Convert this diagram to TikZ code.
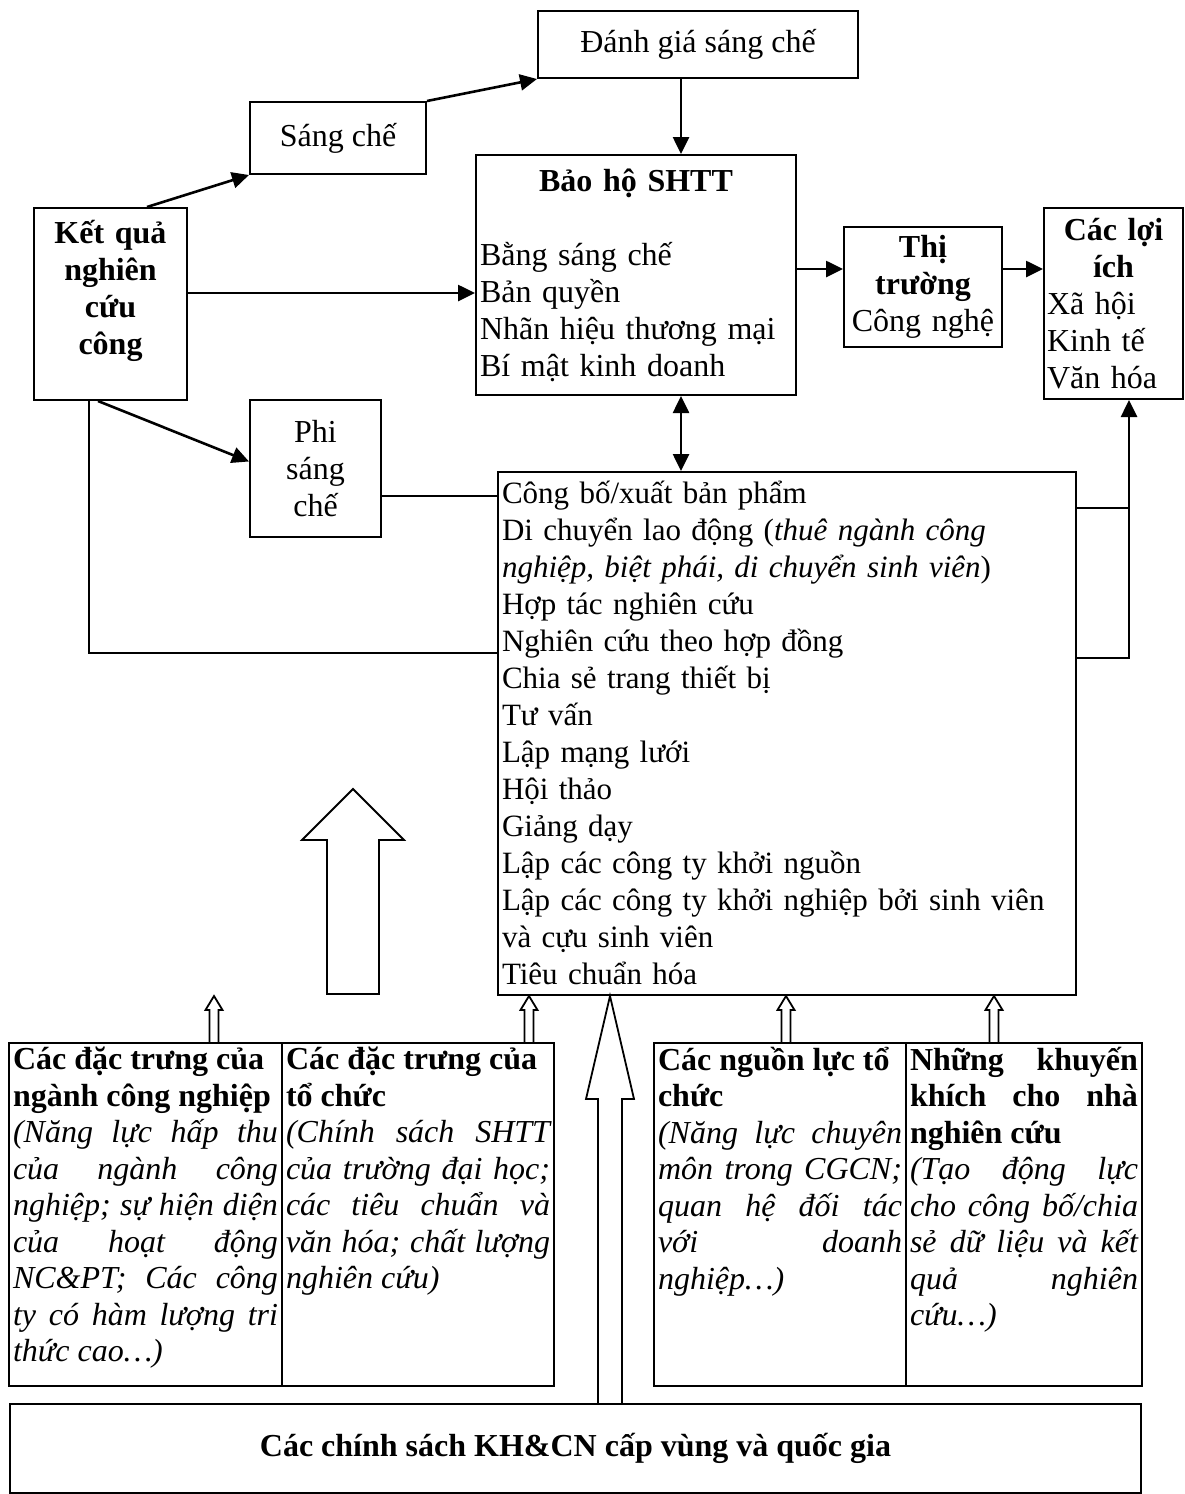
\documentclass[tikz,border=0pt]{standalone}
\usepackage{fontspec}
\setmainfont{Liberation Serif}
\usetikzlibrary{arrows.meta,calc}
\lineskiplimit=-100pt
\newcommand\dep[1]{\rule[-#1pt]{0pt}{#1pt}}
\newcommand\jl[1]{\makebox[\linewidth][s]{#1}}
\newcommand\hollowup[5]{%
  \draw[hol] let \p1=(#1), \p2=(#2) in
    (\x1-#3,\y1) -- (\x1-#3,\y2-#5) -- (\x1-#4,\y2-#5) -- (\x1,\y2)
    -- (\x1+#4,\y2-#5) -- (\x1+#3,\y2-#5) -- (\x1+#3,\y1);}
\begin{document}
\begin{tikzpicture}[x=1pt,y=-1pt,
  every node/.style={font=\fontsize{32}{37}\selectfont},
  box/.style={draw, line width=2pt, anchor=north west, inner sep=0pt, align=center},
  arr/.style={line width=2.6pt, -{Triangle[length=17pt,width=16pt]}},
  darr/.style={line width=2.6pt, {Triangle[length=17pt,width=16pt]}-{Triangle[length=17pt,width=16pt]}},
  ln/.style={line width=2pt},
  hol/.style={line width=1.8pt, line join=miter}]
\useasboundingbox (0,0) rectangle (1184,1494);

% top nodes
\node[box, minimum width=320pt, minimum height=67pt] (dg) at (537,10) {Đánh giá sáng chế};
\node[box, minimum width=176pt, minimum height=72pt] (sc) at (249,101) {Sáng chế};
\node[box, minimum width=153pt, minimum height=192pt, text width=145pt] (kq) at (33,207)
  {\bfseries Kết quả\\nghiên\\cứu\\công\dep{33}};
\node[box, minimum width=320pt, minimum height=240pt, text width=312pt, align=left] (bh) at (475,154)
  {\makebox[312pt][c]{\bfseries Bảo hộ SHTT}\\[37pt]Bằng sáng chế\\Bản quyền\\Nhãn hiệu thương mại\\Bí mật kinh doanh};
\node[box, minimum width=158pt, minimum height=120pt, text width=152pt] (tt) at (843,226)
  {\textbf{Thị}\\\textbf{trường}\\Công nghệ};
\node[box, minimum width=139pt, minimum height=191pt, text width=133pt, align=left] (li) at (1043,207)
  {\makebox[133pt][c]{\bfseries Các lợi}\\\makebox[133pt][c]{\bfseries ích}\\Xã hội\\Kinh tế\\Văn hóa};
\node[box, minimum width=131pt, minimum height=137pt, text width=125pt] (ps) at (249,399)
  {Phi\\sáng\\chế};
\node[box, minimum width=578pt, minimum height=523pt, text width=570pt, align=left,
      font=\fontsize{31}{37}\selectfont] (main) at (497,471)
  {Công bố/xuất bản phẩm\\
   Di chuyển lao động (\textit{thuê ngành công}\\
   \textit{nghiệp, biệt phái, di chuyển sinh viên})\\
   Hợp tác nghiên cứu\\
   Nghiên cứu theo hợp đồng\\
   Chia sẻ trang thiết bị\\
   Tư vấn\\
   Lập mạng lưới\\
   Hội thảo\\
   Giảng dạy\\
   Lập các công ty khởi nguồn\\
   Lập các công ty khởi nghiệp bởi sinh viên\\
   và cựu sinh viên\\
   Tiêu chuẩn hóa\dep{2}};

% bottom factor boxes
\node[box, inner sep=4pt] (c1) at (8,1042) {\parbox[c][335pt][t]{265pt}{\fontsize{32}{36.5}\selectfont
  \bfseries Các đặc trưng của\\ngành công nghiệp\\
  \normalfont\itshape\jl{(Năng lực hấp thu}\\\jl{của ngành công}\\\jl{nghiệp; sự hiện diện}\\
  \jl{của hoạt động}\\\jl{NC\&PT; Các công}\\\jl{ty có hàm lượng tri}\\thức cao…)}};
\node[box, inner sep=4pt] (c2) at (281,1042) {\parbox[c][335pt][t]{264pt}{\fontsize{32}{36.5}\selectfont
  \bfseries Các đặc trưng của\\tổ chức\\
  \normalfont\itshape\jl{(Chính sách SHTT}\\\jl{của trường đại học;}\\\jl{các tiêu chuẩn và}\\
  \jl{văn hóa; chất lượng}\\nghiên cứu)}};
\node[box, inner sep=4pt] (c3) at (653,1042) {\parbox[c][335pt][t]{244pt}{\fontsize{32}{36.5}\selectfont
  \bfseries Các nguồn lực tổ\\chức\\
  \normalfont\itshape\jl{(Năng lực chuyên}\\\jl{môn trong CGCN;}\\\jl{quan hệ đối tác}\\
  \jl{với doanh}\\nghiệp…)}};
\node[box, inner sep=4pt] (c4) at (905,1042) {\parbox[c][335pt][t]{228pt}{\fontsize{32}{36.5}\selectfont
  \bfseries\jl{Những khuyến}\\\jl{khích cho nhà}\\nghiên cứu\\
  \normalfont\itshape\jl{(Tạo động lực}\\\jl{cho công bố/chia}\\\jl{sẻ dữ liệu và kết}\\
  \jl{quả nghiên}\\cứu…)}};
\node[box, minimum width=1131pt, minimum height=89pt] (pol) at (9,1403)
  {\bfseries Các chính sách KH\&CN cấp vùng và quốc gia};

% helper coordinates
\coordinate (xa) at (681,0);
\coordinate (xb) at (1129,0);
\coordinate (ya) at (0,293);
\coordinate (yb) at (0,269);
\coordinate (yc) at (0,496);
\coordinate (yd) at (0,653);
\coordinate (ye) at (0,508);
\coordinate (yf) at (0,658);

% connectors
\draw[arr] ($(kq.north west)+(114,0)$) -- (sc.south west);
\draw[arr] (sc.north east) -- (dg.south west);
\draw[arr] (dg.south -| xa) -- (bh.north -| xa);
\draw[arr] (kq.east |- ya) -- (bh.west |- ya);
\draw[arr] (bh.east |- yb) -- (tt.west |- yb);
\draw[arr] (tt.east |- yb) -- (li.west |- yb);
\draw[arr] ($(kq.south west)+(65,0)$) -- ($(ps.west)+(0,-7)$);
\draw[ln] ($(kq.south west)+(56,0)$) |- (main.west |- yd);
\draw[ln] (ps.east |- yc) -- (main.west |- yc);
\draw[darr] (bh.south -| xa) -- (main.north -| xa);
\draw[ln] (main.east |- ye) -- (xb |- ye);
\draw[arr] (main.east |- yf) -| (li.south -| xb);

% hollow arrows
\coordinate (h1) at ($(c1.north west)+(206,0)$);
\coordinate (t1) at (h1 |- main.south);
\coordinate (h2) at ($(c2.north west)+(248,0)$);
\coordinate (t2) at (h2 |- main.south);
\coordinate (h3) at ($(c3.north west)+(133,0)$);
\coordinate (t3) at (h3 |- main.south);
\coordinate (h4) at ($(c4.north west)+(89,0)$);
\coordinate (t4) at (h4 |- main.south);
\coordinate (h5) at ($(pol.north west)+(601,0)$);
\coordinate (t5) at (h5 |- main.south);
\hollowup{h1}{t1}{4.5pt}{8.5pt}{14pt}
\hollowup{h2}{t2}{4.5pt}{8.5pt}{14pt}
\hollowup{h3}{t3}{4.5pt}{8.5pt}{14pt}
\hollowup{h4}{t4}{4.5pt}{8.5pt}{14pt}
\hollowup{h5}{t5}{12pt}{24pt}{103pt}

% large free-standing hollow arrow
\draw[hol] (327,994) -- (327,840) -- (302,840) -- (353,789) -- (404,840) -- (379,840) -- (379,994) -- cycle;
\end{tikzpicture}
\end{document}
